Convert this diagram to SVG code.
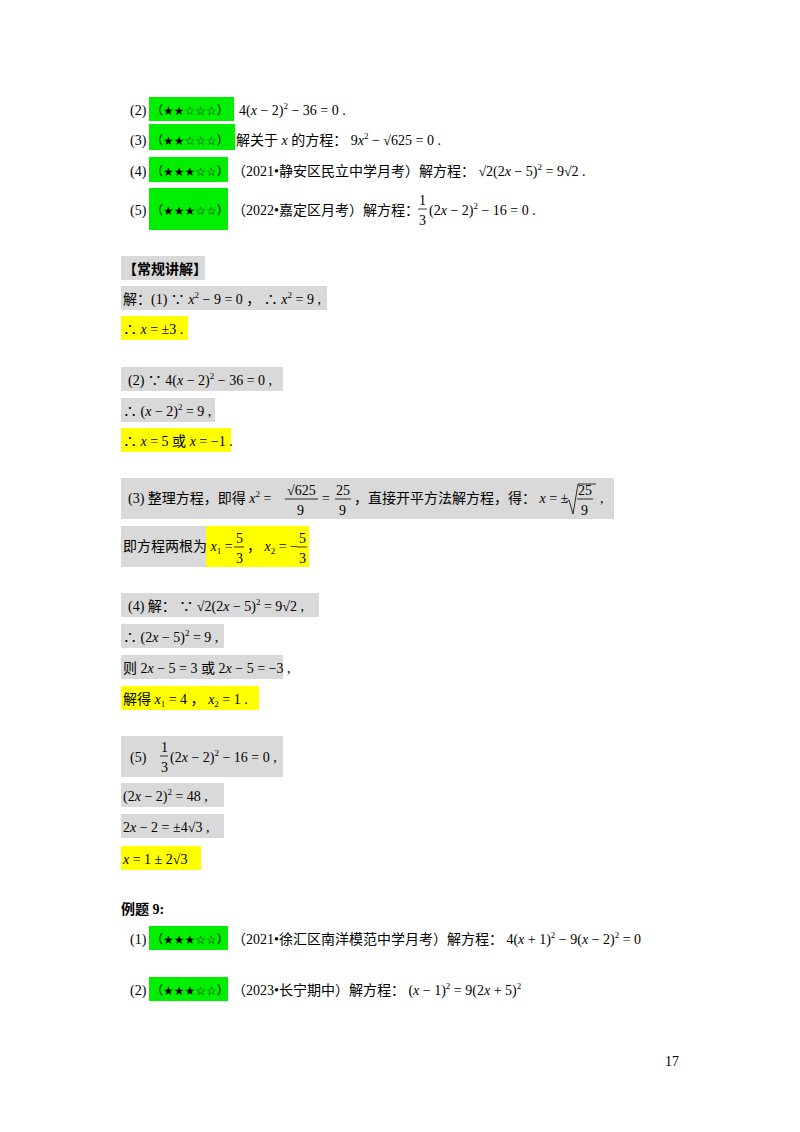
<svg xmlns="http://www.w3.org/2000/svg" width="800" height="1132" viewBox="0 0 800 1132">
<style>
text{font-family:"Liberation Serif","Noto Sans CJK SC",serif;font-size:14px;fill:#000}
.i{font-style:italic}
.s{font-size:9px}
.st{font-family:"DejaVu Sans","Noto Sans CJK SC",sans-serif;font-size:12px}
.g{fill:#00ee00}.y{fill:#ffff00}.k{fill:#d9d9d9}
.b{font-weight:bold}
.l{stroke:#000;stroke-width:0.8;fill:none}
</style>
<rect width="800" height="1132" fill="#fff"/>
<g id="questions">
<rect class="g" x="149" y="97" width="85" height="24"/>
<rect class="g" x="149" y="124" width="86" height="26"/>
<rect class="g" x="149" y="157" width="79" height="25"/>
<rect class="g" x="149" y="188" width="79" height="42"/>
<text x="130" y="115">(2)</text><text class="st" x="151" y="115">（★★☆☆☆）</text>
<text x="239" y="115">4(<tspan class="i">x</tspan> − 2)<tspan class="s" dy="-6">2</tspan><tspan dy="6"> − 36 = 0 .</tspan></text>
<text x="130" y="145">(3)</text><text class="st" x="151" y="145">（★★☆☆☆）</text>
<text x="236" y="145">解关于 <tspan class="i">x</tspan> 的方程：  9<tspan class="i">x</tspan><tspan class="s" dy="-6">2</tspan><tspan dy="6"> − √625 = 0 .</tspan></text>
<text x="130" y="176">(4)</text><text class="st" x="151" y="176">（★★★☆☆）</text>
<text x="232" y="176">（2021•静安区民立中学月考）解方程：  √2(2<tspan class="i">x</tspan> − 5)<tspan class="s" dy="-6">2</tspan><tspan dy="6"> = 9√2 .</tspan></text>
<text x="130" y="215">(5)</text><text class="st" x="151" y="215">（★★★☆☆）</text>
<text x="232" y="215">（2022•嘉定区月考）解方程：</text>
<text x="419" y="205">1</text><line class="l" x1="418" y1="209" x2="427" y2="209"/><text x="419" y="225">3</text>
<text x="429" y="215">(2<tspan class="i">x</tspan> − 2)<tspan class="s" dy="-6">2</tspan><tspan dy="6"> − 16 = 0 .</tspan></text>
</g>
<g id="solution">
<rect class="k" x="121" y="256" width="84" height="24"/>
<text x="123" y="274" class="b">【常规讲解】</text>
<rect class="k" x="121" y="286" width="206" height="24"/>
<text x="123" y="304">解：(1)  ∵ <tspan class="i">x</tspan><tspan class="s" dy="-6">2</tspan><tspan dy="6"> − 9 = 0 ，  ∴ </tspan><tspan class="i">x</tspan><tspan class="s" dy="-6">2</tspan><tspan dy="6"> = 9 ,</tspan></text>
<rect class="y" x="121" y="316" width="67" height="24"/>
<text x="123" y="334">∴ <tspan class="i">x</tspan> = ±3 .</text>
<rect class="k" x="121" y="367" width="162" height="24"/>
<text x="128" y="385">(2)  ∵ 4(<tspan class="i">x</tspan> − 2)<tspan class="s" dy="-6">2</tspan><tspan dy="6"> − 36 = 0 ,</tspan></text>
<rect class="k" x="121" y="398" width="94" height="24"/>
<text x="123" y="416">∴ (<tspan class="i">x</tspan> − 2)<tspan class="s" dy="-6">2</tspan><tspan dy="6"> = 9 ,</tspan></text>
<rect class="y" x="121" y="428" width="110" height="24"/>
<text x="123" y="446">∴ <tspan class="i">x</tspan> = 5 或 <tspan class="i">x</tspan> = −1 .</text>
<rect class="k" x="121" y="478" width="493" height="41"/>
<text x="128" y="503">(3) 整理方程，即得 <tspan class="i">x</tspan><tspan class="s" dy="-6">2</tspan><tspan dy="6"> =</tspan></text>
<text x="287" y="495">√625</text><line class="l" x1="285" y1="499" x2="318" y2="499"/><text x="297" y="515">9</text>
<text x="322" y="503">=</text>
<text x="336" y="495">25</text><line class="l" x1="335" y1="499" x2="351" y2="499"/><text x="339" y="515">9</text>
<text x="354" y="503">，直接开平方法解方程，得：  <tspan class="i">x</tspan> = ±</text>
<path class="l" d="M566 502 l3 -2 l4 14 l5 -30 h18"/>
<text x="578" y="495">25</text><line class="l" x1="577" y1="499" x2="593" y2="499"/><text x="581" y="515">9</text>
<text x="600" y="503">,</text>
<rect class="k" x="121" y="526" width="85" height="41"/>
<rect class="y" x="206" y="526" width="103" height="41"/>
<text x="123" y="551">即方程两根为 <tspan class="i">x</tspan><tspan class="s" dy="3">1</tspan><tspan dy="-3"> =</tspan></text>
<text x="236" y="543">5</text><line class="l" x1="234" y1="547" x2="244" y2="547"/><text x="236" y="563">3</text>
<text x="247" y="551">，  <tspan class="i">x</tspan><tspan class="s" dy="3">2</tspan><tspan dy="-3"> = −</tspan></text>
<text x="299" y="543">5</text><line class="l" x1="297" y1="547" x2="307" y2="547"/><text x="299" y="563">3</text>
<rect class="k" x="121" y="593" width="198" height="24"/>
<text x="128" y="611">(4) 解：  ∵ √2(2<tspan class="i">x</tspan> − 5)<tspan class="s" dy="-6">2</tspan><tspan dy="6"> = 9√2 ,</tspan></text>
<rect class="k" x="121" y="624" width="103" height="24"/>
<text x="123" y="642">∴ (2<tspan class="i">x</tspan> − 5)<tspan class="s" dy="-6">2</tspan><tspan dy="6"> = 9 ,</tspan></text>
<rect class="k" x="121" y="655" width="162" height="24"/>
<text x="123" y="673">则 2<tspan class="i">x</tspan> − 5 = 3 或 2<tspan class="i">x</tspan> − 5 = −3 ,</text>
<rect class="y" x="121" y="686" width="138" height="24"/>
<text x="123" y="704">解得 <tspan class="i">x</tspan><tspan class="s" dy="3">1</tspan><tspan dy="-3"> = 4 ，  </tspan><tspan class="i">x</tspan><tspan class="s" dy="3">2</tspan><tspan dy="-3"> = 1 .</tspan></text>
<rect class="k" x="121" y="736" width="162" height="41"/>
<text x="130" y="762">(5)</text>
<text x="161" y="752">1</text><line class="l" x1="160" y1="756" x2="168" y2="756"/><text x="161" y="772">3</text>
<text x="170" y="762">(2<tspan class="i">x</tspan> − 2)<tspan class="s" dy="-6">2</tspan><tspan dy="6"> − 16 = 0 ,</tspan></text>
<rect class="k" x="121" y="783" width="103" height="24"/>
<text x="123" y="801">(2<tspan class="i">x</tspan> − 2)<tspan class="s" dy="-6">2</tspan><tspan dy="6"> = 48 ,</tspan></text>
<rect class="k" x="121" y="814" width="103" height="24"/>
<text x="123" y="832">2<tspan class="i">x</tspan> − 2 = ±4√3 ,</text>
<rect class="y" x="121" y="846" width="80" height="24"/>
<text x="123" y="864"><tspan class="i">x</tspan> = 1 ± 2√3</text>
</g>
<g id="example9">
<text x="121" y="914" class="b">例题 9:</text>
<rect class="g" x="149" y="926" width="79" height="24"/>
<text x="130" y="944">(1)</text><text class="st" x="151" y="944">（★★★☆☆）</text>
<text x="232" y="944">（2021•徐汇区南洋模范中学月考）解方程：  4(<tspan class="i">x</tspan> + 1)<tspan class="s" dy="-6">2</tspan><tspan dy="6"> − 9(</tspan><tspan class="i">x</tspan> − 2)<tspan class="s" dy="-6">2</tspan><tspan dy="6"> = 0</tspan></text>
<rect class="g" x="149" y="977" width="79" height="24"/>
<text x="130" y="995">(2)</text><text class="st" x="151" y="995">（★★★☆☆）</text>
<text x="232" y="995">（2023•长宁期中）解方程：  (<tspan class="i">x</tspan> − 1)<tspan class="s" dy="-6">2</tspan><tspan dy="6"> = 9(2</tspan><tspan class="i">x</tspan> + 5)<tspan class="s" dy="-6">2</tspan></text>
</g>
<text x="665" y="1066" font-size="13">17</text>
</svg>
